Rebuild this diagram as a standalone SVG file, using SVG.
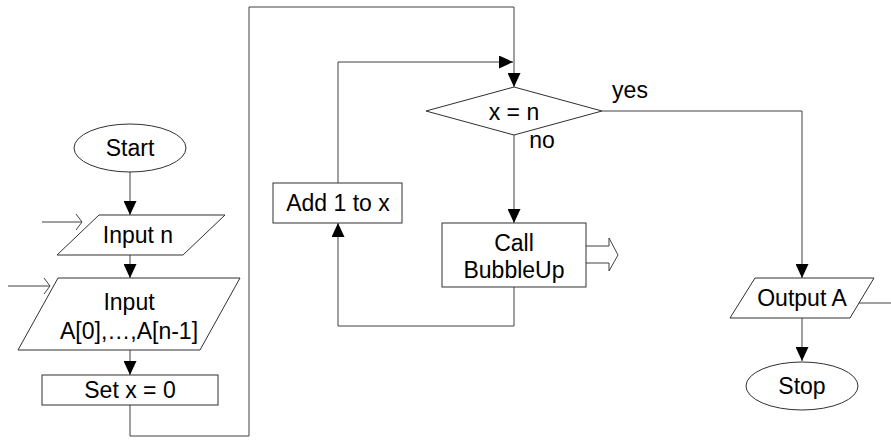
<svg xmlns="http://www.w3.org/2000/svg" width="891" height="447" viewBox="0 0 891 447">
  <style>
    .shape { fill: #ffffff; stroke: #303030; stroke-width: 1; }
    .edge { fill: none; stroke: #404040; stroke-width: 1; }
    .label { font-family: "Liberation Sans", Arial, sans-serif; font-size: 23px; fill: #000000; text-anchor: middle; dominant-baseline: central; }
  </style>
  <defs>
    <marker id="arrow" markerUnits="userSpaceOnUse" markerWidth="14" markerHeight="13" refX="14" refY="6.5" viewBox="0 0 14 13" orient="auto">
      <path d="M0,0 L14,6.5 L0,13 Z" fill="#000000"/>
    </marker>
    <marker id="open" markerUnits="userSpaceOnUse" markerWidth="8" markerHeight="16" refX="7" refY="8" viewBox="0 0 8 16" orient="auto">
      <path d="M1,0 L7,8 L1,16" fill="none" stroke="#404040" stroke-width="1"/>
    </marker>
  </defs>

  <g id="connectors">
    <line class="edge" x1="130" y1="172" x2="130" y2="215" marker-end="url(#arrow)"/>
    <line class="edge" x1="130" y1="255" x2="130" y2="278" marker-end="url(#arrow)"/>
    <line class="edge" x1="130" y1="350" x2="130" y2="375" marker-end="url(#arrow)"/>
    <polyline class="edge" points="130,405 130,436 249,436 249,7 514,7 514,87" marker-end="url(#arrow)"/>
    <polyline class="edge" points="338,183 338,62 513,62" marker-end="url(#arrow)"/>
    <line class="edge" x1="514" y1="135" x2="514" y2="223" marker-end="url(#arrow)"/>
    <polyline class="edge" points="514,287 514,326 338,326 338,223" marker-end="url(#arrow)"/>
    <polyline class="edge" points="602,111 802,111 802,278" marker-end="url(#arrow)"/>
    <line class="edge" x1="802" y1="318" x2="802" y2="361" marker-end="url(#arrow)"/>
    <line class="edge" x1="858" y1="303" x2="891" y2="303"/>
    <line class="edge" x1="42" y1="222" x2="82" y2="222" marker-end="url(#open)"/>
    <line class="edge" x1="8" y1="286" x2="50" y2="286" marker-end="url(#open)"/>
    <path class="edge" d="M586,246 H609 V238 L618,255 L609,271 V263 H586" fill="#ffffff"/>
  </g>

  <g id="start">
    <ellipse class="shape" cx="130" cy="148" rx="56" ry="24"/>
    <text class="label" x="130" y="148">Start</text>
  </g>
  <g id="input-n">
    <polygon class="shape" points="99,215 225,215 183,255 57,255"/>
    <text class="label" x="138" y="235">Input n</text>
  </g>
  <g id="input-a">
    <polygon class="shape" points="58,278 240,278 200,350 18,350"/>
    <text class="label" x="129" y="302">Input</text>
    <text class="label" x="129" y="331">A[0],…,A[n-1]</text>
  </g>
  <g id="set-x">
    <rect class="shape" x="42" y="375" width="176" height="30"/>
    <text class="label" x="130" y="390">Set x = 0</text>
  </g>
  <g id="test">
    <polygon class="shape" points="426,111 514,87 602,111 514,135"/>
    <text class="label" x="514" y="112">x = n</text>
    <text class="label" x="542" y="140">no</text>
    <text class="label" x="630" y="90">yes</text>
  </g>
  <g id="add-one">
    <rect class="shape" x="273" y="183" width="129" height="40"/>
    <text class="label" x="338" y="203">Add 1 to x</text>
  </g>
  <g id="call-bubbleup">
    <rect class="shape" x="442" y="223" width="144" height="64"/>
    <text class="label" x="514" y="243">Call</text>
    <text class="label" x="514" y="270">BubbleUp</text>
  </g>
  <g id="output-a">
    <polygon class="shape" points="755,278 874,278 850,318 730,318"/>
    <text class="label" x="802" y="298">Output A</text>
  </g>
  <g id="stop">
    <ellipse class="shape" cx="802" cy="386" rx="56" ry="24"/>
    <text class="label" x="802" y="386">Stop</text>
  </g>
</svg>
